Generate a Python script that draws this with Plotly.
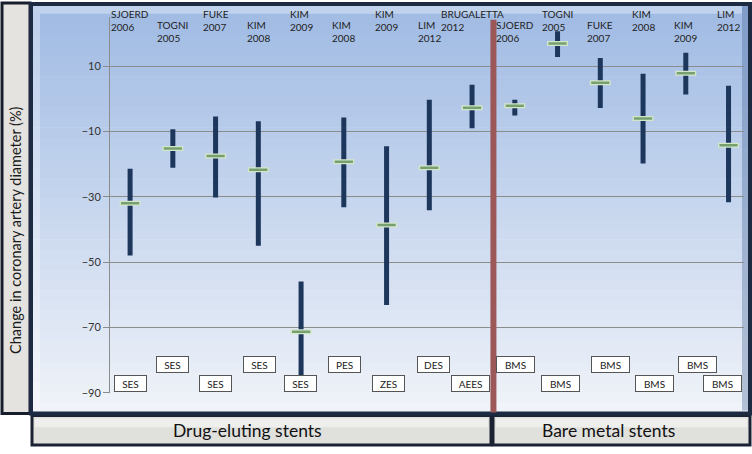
import plotly.graph_objects as go

# Studies, one per column (drug-eluting first, then bare metal)
studies = ["SJOERD<br>2006", "TOGNI<br>2005", "FUKE<br>2007", "KIM<br>2008", "KIM<br>2009",
           "KIM<br>2008", "KIM<br>2009", "LIM<br>2012", "BRUGALETTA<br>2012",
           "SJOERD<br>2006", "TOGNI<br>2005", "FUKE<br>2007", "KIM<br>2008", "KIM<br>2009", "LIM<br>2012"]
stent_types = ["SES", "SES", "SES", "SES", "SES", "PES", "ZES", "DES", "AEES",
               "BMS", "BMS", "BMS", "BMS", "BMS", "BMS"]

# change in coronary artery diameter (%), mean with range
mean_change = [-32.0, -15.2, -17.5, -21.7, -71.3, -19.3, -38.6, -21.1, -2.7,
               -2.1, 16.9, 4.9, -6.0, 7.8, -14.2]
upper = [-21.4, -9.3, -5.4, -6.9, -55.9, -5.7, -14.5, -0.3, 4.3,
         -0.3, 20.7, 12.5, 7.7, 14.1, 4.0]
lower = [-48.0, -21.1, -30.2, -45.0, -84.6, -33.2, -63.1, -34.1, -9.0,
         -5.1, 12.8, -2.8, -19.8, 1.3, -31.7]

group_names = ["Drug-eluting stents", "Bare metal stents"]
n_des = 9
y_ticks = [-90, -70, -50, -30, -10, 10]

FONT = "Lato"
W, H = 752, 454


def px(x):
    return x / W


def py(y):
    return 1 - y / H


xs = list(range(len(studies)))

fig = go.Figure()

# range bars, with a light outline under the mean markers
fig.add_trace(go.Scatter(
    x=xs, y=mean_change, mode="markers",
    error_y=dict(type="data", symmetric=False,
                 array=[u - m for u, m in zip(upper, mean_change)],
                 arrayminus=[m - l for m, l in zip(mean_change, lower)],
                 thickness=5, width=0, color="#1d365c"),
    marker=dict(symbol="line-ew", size=15, line=dict(width=5, color="#d4e6c8")),
    hoverinfo="skip", showlegend=False))
fig.add_trace(go.Scatter(
    x=xs, y=mean_change, mode="markers",
    marker=dict(symbol="line-ew", size=13, line=dict(width=2.5, color="#76a070")),
    showlegend=False))

shapes = []

# y title panel
shapes.append(dict(type="rect", xref="paper", yref="paper", layer="below",
                   x0=px(2), x1=px(30), y0=py(419), y1=py(3),
                   fillcolor="#e4e3e0", line=dict(color="#161d2b", width=3)))

# main panel gradient
top_c = (160, 187, 228)
bot_c = (240, 243, 249)
y_top, y_bot = 5, 418
n = 40
for i in range(n):
    t = i / (n - 1)
    c = tuple(int(a + (b - a) * t) for a, b in zip(top_c, bot_c))
    ya = y_top + (y_bot - y_top) * i / n
    yb = y_top + (y_bot - y_top) * (i + 1) / n + 0.6
    shapes.append(dict(type="rect", xref="paper", yref="paper", layer="below",
                       x0=px(32), x1=px(750), y0=py(yb), y1=py(ya),
                       fillcolor="rgb(%d,%d,%d)" % c, line=dict(width=0)))
# bevel highlights / shading
shapes.append(dict(type="rect", xref="paper", yref="paper", layer="below",
                   x0=px(33), x1=px(742), y0=py(14), y1=py(6),
                   fillcolor="rgba(255,255,255,0.35)", line=dict(width=0)))
shapes.append(dict(type="rect", xref="paper", yref="paper", layer="below",
                   x0=px(33), x1=px(40), y0=py(416), y1=py(14),
                   fillcolor="rgba(255,255,255,0.3)", line=dict(width=0)))
shapes.append(dict(type="rect", xref="paper", yref="paper", layer="below",
                   x0=px(742), x1=px(749), y0=py(416), y1=py(6),
                   fillcolor="rgba(70,100,150,0.35)", line=dict(width=0)))
shapes.append(dict(type="rect", xref="paper", yref="paper", layer="above",
                   x0=px(31), x1=px(750), y0=py(419), y1=py(4),
                   fillcolor="rgba(0,0,0,0)", line=dict(color="#1c2a42", width=4)))

# group panels at the bottom
for x0, x1 in [(32, 491), (493, 750)]:
    shapes.append(dict(type="rect", xref="paper", yref="paper", layer="below",
                       x0=px(x0), x1=px(x1), y0=py(451), y1=py(421),
                       fillcolor="#e0e0dd", line=dict(color="#1a2233", width=3)))
    shapes.append(dict(type="rect", xref="paper", yref="paper", layer="below",
                       x0=px(x0 + 3), x1=px(x1 - 3), y0=py(433), y1=py(424),
                       fillcolor="rgba(255,255,255,0.45)", line=dict(width=0)))

# separator between stent groups
shapes.append(dict(type="line", xref="x", yref="paper",
                   x0=n_des - 0.5, x1=n_des - 0.5, y0=py(418), y1=py(20),
                   line=dict(color="#9c5858", width=6)))

annotations = []
for i, (s, st) in enumerate(zip(studies, stent_types)):
    high = i % 2 == 0
    annotations.append(dict(x=i, y=py(21) if high else py(31.5), xref="x", yref="paper",
                            text=s, showarrow=False, align="left",
                            xanchor="center", yanchor="middle",
                            font=dict(family=FONT, size=10, color="#222222")))
    box_shift = [0, 0, 0, 1, -1, 1, 2, 4, -2, 1, 3, 10, 11, 12, -6][i]
    annotations.append(dict(x=i, y=-87.2 if high else -81.4, xref="x", yref="y",
                            xshift=box_shift, text=st, showarrow=False,
                            xanchor="center", yanchor="middle",
                            width=35 if st in ("BMS", "AEES") else 29, height=13,
                            bgcolor="white", bordercolor="#555555", borderwidth=1, borderpad=1,
                            font=dict(family=FONT, size=10, color="#222222")))

annotations.append(dict(x=px(16), y=py(233), xref="paper", yref="paper",
                        xanchor="center", yanchor="middle",
                        text="Change in coronary artery diameter (%)", textangle=-90,
                        showarrow=False, font=dict(family=FONT, size=14.5, color="#1a1a1a")))
annotations.append(dict(x=px(247), y=py(436), xref="paper", yref="paper",
                        xanchor="center", yanchor="middle",
                        text=group_names[0], showarrow=False,
                        font=dict(family=FONT, size=17.5, color="#111111")))
annotations.append(dict(x=px(608), y=py(436), xref="paper", yref="paper",
                        xanchor="center", yanchor="middle",
                        text=group_names[1], showarrow=False,
                        font=dict(family=FONT, size=17.5, color="#111111")))

fig.update_layout(
    width=W, height=H,
    margin=dict(l=0, r=0, t=0, b=0),
    paper_bgcolor="white",
    plot_bgcolor="rgba(0,0,0,0)",
    shapes=shapes,
    annotations=annotations,
    showlegend=False,
    xaxis=dict(domain=[px(110), px(743.5)], range=[-0.47, 14.35],
               showgrid=False, zeroline=False, showticklabels=False, showline=False),
    yaxis=dict(domain=[py(398), py(17.4)], range=[-90, 25],
               tickvals=y_ticks, ticks="outside", ticklen=6, tickcolor="#8c8c8c",
               showgrid=True, gridcolor="#8c8c8c", gridwidth=1,
               showline=True, linecolor="#8c8c8c", zeroline=False,
               tickfont=dict(family=FONT, size=11, color="#333333")),
)

# pin the figure to the top-left corner of the window, no page margin
page_fix = ("document.body.style.margin = '0';"
            "document.body.style.overflow = 'hidden';"
            "document.documentElement.style.overflow = 'hidden';"
            "var gd = document.querySelector('.plotly-graph-div');"
            "gd.style.position = 'fixed'; gd.style.top = '0'; gd.style.left = '0';")
fig.write_html("out.html", config={"displayModeBar": False}, post_script=page_fix)
